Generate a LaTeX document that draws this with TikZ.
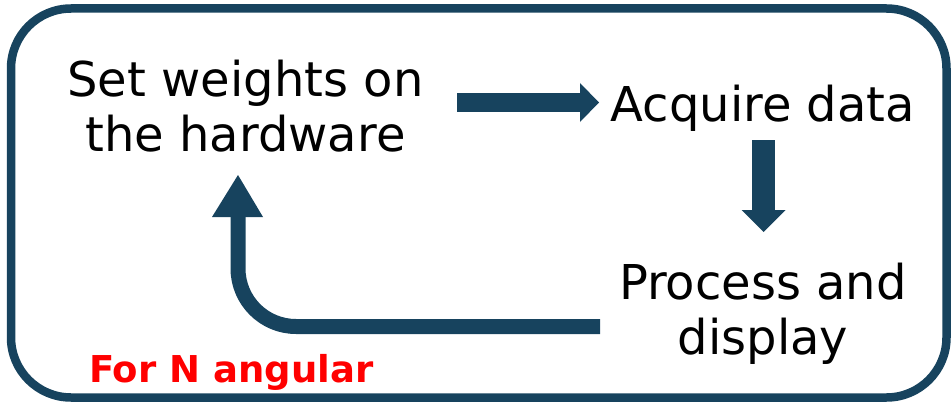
\documentclass[tikz,border=0pt]{standalone}
\usepackage{fontspec}
\setmainfont{DejaVu Sans}
\definecolor{navy}{RGB}{23,67,94}
\definecolor{alertred}{RGB}{255,0,0}

\begin{document}
\begin{tikzpicture}[x=1pt, y=-1pt,
        stage/.style={align=center, inner sep=0pt, font=\fontsize{48}{55}\selectfont},
        flow/.style={navy, line width=#1}]
        \useasboundingbox (0,0) rectangle (951,404);
        \draw[navy, line width=8.5, rounded corners=60] (11,8.5) rectangle (946.5,397.5);
        % the three steps
        \node[stage] (set) at (245.5,106.5) {Set weights on\\the hardware};
        \node[stage] (acquire) at (763,108.5) {Acquire data};
        \node[stage] (process) at (763,314) {Process and\\display};
        \node[anchor=base west, inner sep=0pt, text=alertred, font=\bfseries\fontsize{37}{44}\selectfont] (note) at (89,382) {For N angular};
        % arrows
        \coordinate (setout) at (457,102.5);
        \coordinate (acqin) at (580,102.5);
        \draw[flow=19] (setout) -- (acqin);
        \fill[navy] (acqin) ++(0,-19.5) -- ++(19,19.5) -- ++(-19,19.5) -- cycle;
        \coordinate (acqout) at (763.5,140);
        \coordinate (procin) at (763.5,210);
        \draw[flow=23] (acqout) -- (procin);
        \fill[navy] (procin) ++(-22,0) -- ++(22,22) -- ++(22,-22) -- cycle;
        \coordinate (procout) at (600,326.5);
        \coordinate (setin) at (238,217);
        \draw[flow=15, rounded corners=58] (procout) -- (setin |- procout) -- (setin);
        \fill[navy] (setin) ++(-26,0) -- ++(26,-42) -- ++(25,42) -- cycle;
\end{tikzpicture}
\end{document}
